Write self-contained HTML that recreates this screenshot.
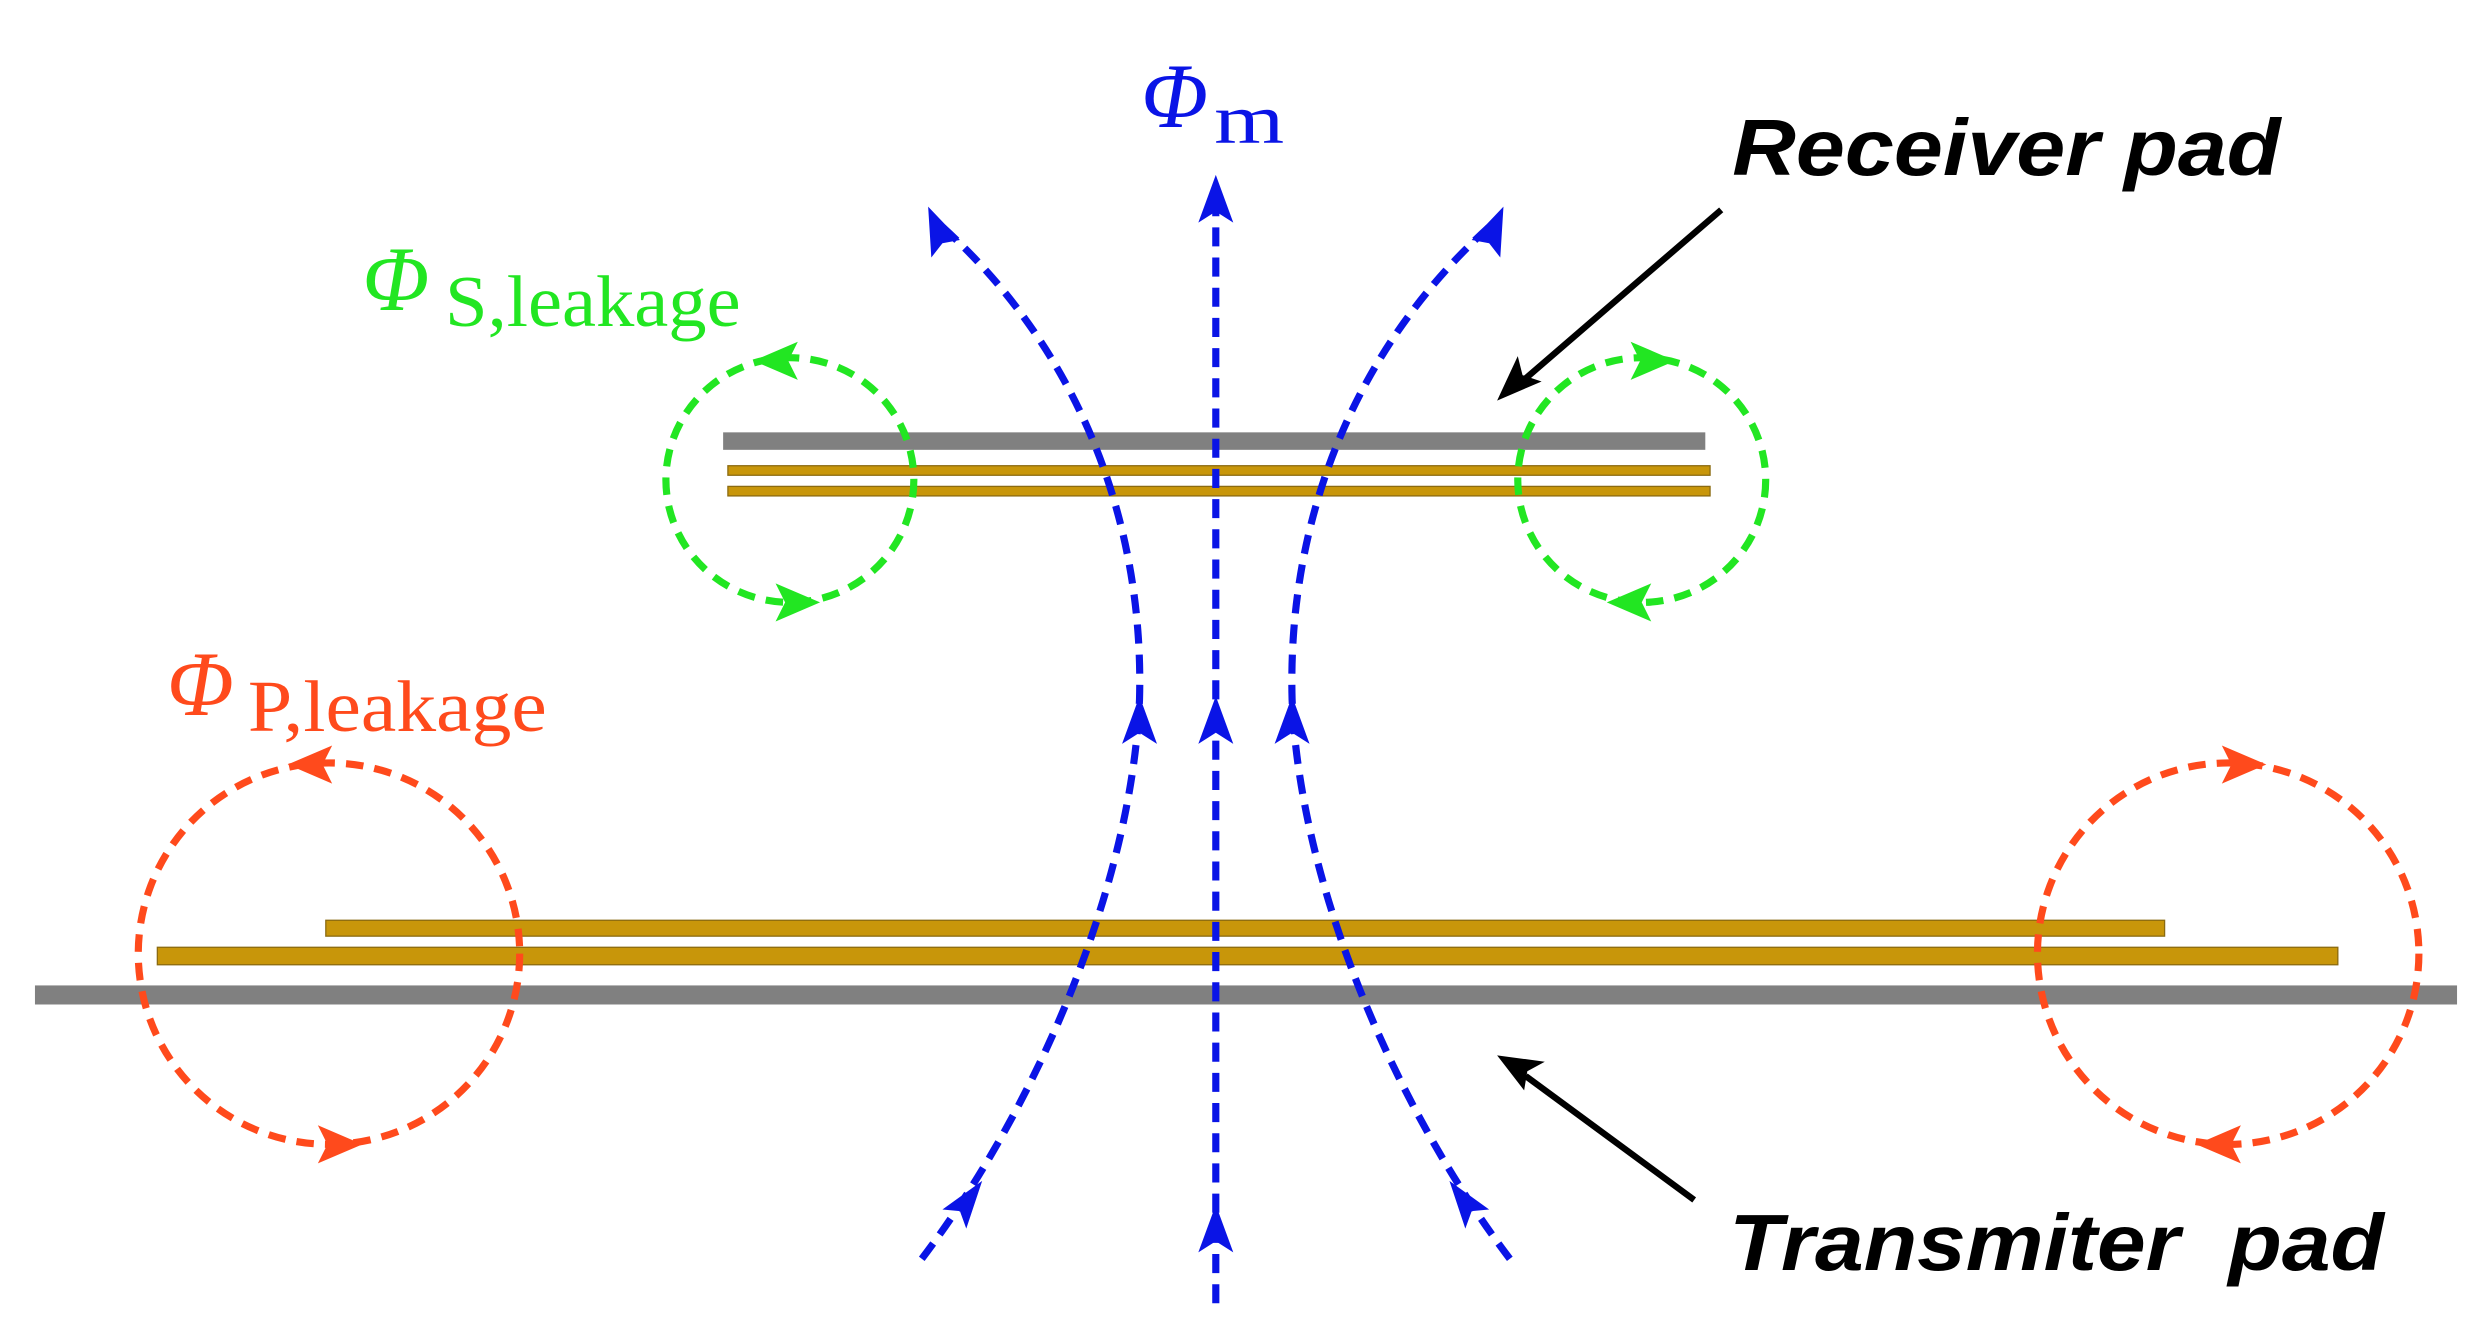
<!DOCTYPE html>
<html><head><meta charset="utf-8"><style>
html,body{margin:0;padding:0;background:#fff;}
svg{display:block}
</style></head><body>
<svg width="2492" height="1324" viewBox="0 0 1568 833" xmlns="http://www.w3.org/2000/svg">
<rect width="1568" height="833" fill="#fff"/>
<!-- receiver pad -->
<rect x="455" y="272" width="618" height="11" fill="#808080"/>
<rect x="458" y="293" width="618" height="6" fill="#c8960a" stroke="#8a6a10" stroke-width="0.8"/>
<rect x="458" y="306" width="618" height="6" fill="#c8960a" stroke="#8a6a10" stroke-width="0.8"/>
<!-- transmitter pad -->
<rect x="205" y="579" width="1157" height="10" fill="#c8960a" stroke="#8a6a10" stroke-width="0.8"/>
<rect x="99" y="596" width="1372" height="11" fill="#c8960a" stroke="#8a6a10" stroke-width="0.8"/>
<rect x="22" y="620" width="1524" height="12" fill="#808080"/>
<!-- blue flux -->
<g fill="none" stroke="#0a14e6" stroke-width="4.5" stroke-dasharray="12 7">
<path d="M765,820 L765,120"/>
<path d="M580,792 C650,700 712,560 717,440 C720,330 680,220 590,140"/>
<path d="M950,792 C880,700 818,560 813,440 C810,330 850,220 940,140"/>
</g>
<g fill="#0a14e6">
<path d="M765,110 L754,140 L765,133 L776,140 z"/>
<path d="M765,438 L754,468 L765,461 L776,468 z"/>
<path d="M765,758 L754,788 L765,781 L776,788 z"/>
<path d="M717,438 L706,468 L717,461 L728,468 z"/>
<path d="M813,438 L802,468 L813,461 L824,468 z"/>
<path d="M584,130 L586,162 L593,153 L604,151 z"/>
<path d="M946,130 L944,162 L937,153 L926,151 z"/>
<path d="M618,743 L593,761 L604,762 L608,773 z"/>
<path d="M912,743 L937,761 L926,762 L922,773 z"/>
</g>
<!-- green circles -->
<g fill="none" stroke="#22e622" stroke-width="4.5" stroke-dasharray="11 7">
<ellipse cx="497" cy="302" rx="78" ry="77"/>
<ellipse cx="1033" cy="302" rx="78" ry="77"/>
</g>
<g fill="#22e622">
<path d="M474,227 L502,215 L496,227 L502,239 z"/>
<path d="M516,379 L488,367 L494,379 L488,391 z"/>
<path d="M1054,227 L1026,215 L1032,227 L1026,239 z"/>
<path d="M1011,379 L1039,367 L1033,379 L1039,391 z"/>
</g>
<!-- red circles -->
<g fill="none" stroke="#ff4a1c" stroke-width="4.5" stroke-dasharray="11 7">
<circle cx="207" cy="600" r="120"/>
<circle cx="1402" cy="600" r="120"/>
</g>
<g fill="#ff4a1c">
<path d="M181,481 L209,469 L203,481 L209,493 z"/>
<path d="M228,720 L200,708 L206,720 L200,732 z"/>
<path d="M1426,481 L1398,469 L1404,481 L1398,493 z"/>
<path d="M1382,720 L1410,708 L1404,720 L1410,732 z"/>
</g>
<!-- black arrows -->
<g stroke="#000" stroke-width="4" fill="#000">
<line x1="1083" y1="132" x2="960" y2="238"/>
<path d="M942,252 L955,224 L958,236 L970,240 z" stroke="none"/>
<line x1="1066" y1="755" x2="960" y2="677"/>
<path d="M942,664 L972,668 L961,674 L959,686 z" stroke="none"/>
</g>
<!-- labels -->
<g font-family="'Liberation Serif',serif">
<text x="718" y="80" fill="#0a14e6" font-size="58" font-style="italic" textLength="42" lengthAdjust="spacingAndGlyphs">Φ</text>
<text x="764" y="90" fill="#0a14e6" font-size="44" textLength="44" lengthAdjust="spacingAndGlyphs">m</text>
<text x="228" y="195" fill="#22e622" font-size="58" font-style="italic" textLength="42" lengthAdjust="spacingAndGlyphs">Φ</text>
<text x="280" y="205" fill="#22e622" font-size="46" textLength="186" lengthAdjust="spacingAndGlyphs">S,leakage</text>
<text x="105" y="450" fill="#ff4a1c" font-size="58" font-style="italic" textLength="42" lengthAdjust="spacingAndGlyphs">Φ</text>
<text x="156" y="460" fill="#ff4a1c" font-size="46" textLength="188" lengthAdjust="spacingAndGlyphs">P,leakage</text>
</g>
<g font-family="'Liberation Sans',sans-serif" font-weight="bold" font-style="italic" font-size="50" fill="#000">
<text x="1090" y="110" textLength="345" lengthAdjust="spacingAndGlyphs">Receiver pad</text>
<text x="1088" y="799" xml:space="preserve" textLength="412" lengthAdjust="spacingAndGlyphs">Transmiter  pad</text>
</g>
</svg>
</body></html>
